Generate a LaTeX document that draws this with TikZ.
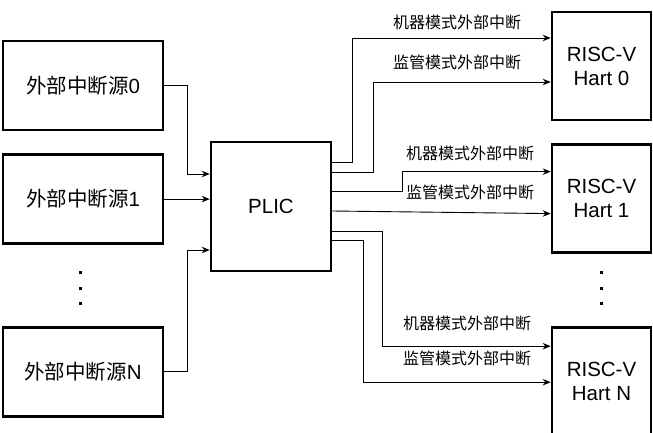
\documentclass[tikz,border=0pt]{standalone}
\usepackage{fontspec}
\setmainfont{Liberation Sans}
\newfontfamily\cjk{Noto Sans CJK SC}
\usepackage{tikz}
\usetikzlibrary{arrows.meta, positioning}

\begin{document}
\begin{tikzpicture}[x=1pt, y=-1pt,
    box/.style={rectangle, draw=black, line width=2.6pt, fill=white, align=center,
                font=\fontsize{20.5}{24}\selectfont},
    srcbox/.style={box, minimum width=160pt, minimum height=89pt},
    hartbox/.style={box, minimum width=99pt, minimum height=108pt},
    conn/.style={-{Stealth[length=8pt, width=6.5pt]}, line width=0.9pt, black},
    lbl/.style={font=\cjk\fontsize{16}{18}\selectfont, inner sep=0pt}
]
\useasboundingbox (0,0) rectangle (653,433);
% interrupt sources
\node (src0) [srcbox] at (83,85.5) {{\cjk 外部中断源}0};
\node (src1) [srcbox, below=22pt of src0] {{\cjk 外部中断源}1};
\node (srcN) [srcbox, below=81pt of src1] {{\cjk 外部中断源}N};
\node (plic) [box, minimum width=120pt, minimum height=129pt] at (271,206.5) {PLIC};
% harts
\node (hart0) [hartbox] at (601.5,66) {RISC-V\\Hart 0};
\node (hart1) [hartbox, below=22pt of hart0] {RISC-V\\Hart 1};
\node (hartN) [hartbox, below=72pt of hart1] {RISC-V\\Hart N};
% dots
\foreach \y in {272,288,303} {
    \fill (78.5,\y-1.5) rectangle ++(3,3);
    \fill (599.5,\y-1.5) rectangle ++(3,3);
}
% sources to PLIC
\draw [conn] (src0.east) -- ++(23,0) |- ([yshift=32.5pt]plic.west);
\draw [conn] (src1.east) -- (plic.west |- src1.east);
\draw [conn] (srcN.east) -- ++(23,0) |- ([yshift=-43.5pt]plic.west);
% PLIC to harts
\draw [conn] ([yshift=44.5pt]plic.east) -- ++(20,0) |- ([yshift=28pt]hart0.west);
\draw [conn] ([yshift=34.5pt]plic.east) -- ++(41,0) |- ([yshift=-16pt]hart0.west);
\draw [conn] ([yshift=15.5pt]plic.east) -- ++(70,0) |- ([yshift=27pt]hart1.west);
\draw [conn] ([yshift=-4.5pt]plic.east) -- ([yshift=-15pt]hart1.west);
\draw [conn] ([yshift=-24.5pt]plic.east) -- ++(50,0) |- ([yshift=35pt]hartN.west);
\draw [conn] ([yshift=-33.5pt]plic.east) -- ++(31,0) |- ([yshift=-1pt]hartN.west);
% labels
\node (m0) [lbl] at (457,22) {机器模式外部中断};
\node (s0) [lbl] at (457,62) {监管模式外部中断};
\node (m1) [lbl] at (470,153) {机器模式外部中断};
\node (s1) [lbl] at (470,192) {监管模式外部中断};
\node (mN) [lbl] at (467,323) {机器模式外部中断};
\node (sN) [lbl] at (467,358) {监管模式外部中断};
\end{tikzpicture}
\end{document}
